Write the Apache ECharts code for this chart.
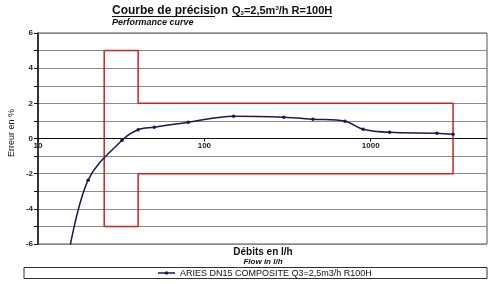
<!DOCTYPE html>
<html><head><meta charset="utf-8">
<script src="https://cdn.jsdelivr.net/npm/echarts@6/dist/echarts.min.js"></script>
<style>html,body{margin:0;padding:0;background:#fff}#c{width:501px;height:284px}</style>
</head><body><div id="c"></div>
<script>
// Data
const flows = [15, 20, 32, 40, 50, 80, 150, 300, 450, 700, 900, 1300, 2500, 3125];
const errors = [-7, -2.37, -0.1, 0.5, 0.64, 0.93, 1.27, 1.21, 1.1, 0.98, 0.53, 0.35, 0.3, 0.24];
// Maximum permissible error envelope (Q1=25, Q2=40, Q4=3125 l/h)
const envFlows = [25, 40, 40, 3125, 3125, 40, 40, 25, 25];
const envErrors = [5, 5, 2, 2, -2, -2, -5, -5, 5];
const xTickLabels = [10, 100, 1000];
const seriesName = 'ARIES DN15 COMPOSITE Q3=2,5m3/h R100H';

const FONT = '"Liberation Sans", Arial, sans-serif';
const chart = echarts.init(document.getElementById('c'), null, {renderer: 'canvas'});
const GRID_TOP = 33, GRID_BOTTOM = 40, H = 284;
const Y_MIN = -6, Y_MAX = 6;
const gridH = H - GRID_TOP - GRID_BOTTOM;
// move the x axis up to where y = 0
const zeroOffset = -gridH * (0 - Y_MIN) / (Y_MAX - Y_MIN);
chart.setOption({
  animation: false,
  textStyle: {fontFamily: FONT},
  grid: {left: 38, right: 14, top: GRID_TOP, bottom: GRID_BOTTOM, show: true, borderColor: '#555', borderWidth: 1, backgroundColor: 'transparent'},
  xAxis: {
    type: 'log', logBase: 10, min: 10, max: 5000,
    position: 'bottom', offset: zeroOffset,
    axisLine: {onZero: false, lineStyle: {color: '#111', width: 1}},
    axisTick: {show: true, length: 3, lineStyle: {color: '#111'}},
    axisLabel: {
      margin: 3, fontSize: 8, fontWeight: 'bold', color: '#222', fontFamily: FONT,
      showMaxLabel: false,
      formatter: v => (xTickLabels.indexOf(Math.round(v)) >= 0 ? String(Math.round(v)) : '')
    },
    splitLine: {show: false}
  },
  yAxis: {
    type: 'value', min: Y_MIN, max: Y_MAX, interval: 1,
    axisLine: {show: true, onZero: false, lineStyle: {color: '#111', width: 1.5}},
    axisTick: {show: true, length: 4, inside: false, lineStyle: {color: '#111'}, interval: 0},
    axisLabel: {margin: 5, fontSize: 8, fontWeight: 'bold', color: '#222', fontFamily: FONT,
      formatter: v => (Math.round(v) % 2 === 0 ? String(v) : '')},
    splitLine: {show: true, lineStyle: {color: '#8a8a8a', width: 1.2}}
  },
  legend: {show: false},
  series: [
    {
      name: 'envelope', type: 'line', silent: true,
      data: envFlows.map((f, i) => [f, envErrors[i]]),
      symbol: 'none', lineStyle: {color: '#d42020', width: 1.5}, z: 3
    },
    {
      name: seriesName, type: 'line', smooth: 0.35, clip: true,
      data: flows.map((f, i) => [f, errors[i]]),
      symbol: 'circle', symbolSize: 3.5,
      itemStyle: {color: '#161a58'},
      lineStyle: {color: '#161a58', width: 1.5}, z: 4
    }
  ],
  graphic: [
    {type: 'text', left: 112, top: 5, style: {text: 'Courbe de précision', font: 'bold 12px ' + FONT, fill: '#111'}},
    {type: 'line', shape: {x1: 112, y1: 16.5, x2: 215, y2: 16.5}, style: {stroke: '#111', lineWidth: 1}},
    {type: 'text', left: 232, top: 5, style: {
      text: '{a|Q}{s|3}{a|=2,5m}{p|3}{a|/h R=100H}',
      rich: {a: {font: 'bold 11px ' + FONT, fill: '#111'}, s: {font: 'bold 6px ' + FONT, fill: '#111', verticalAlign: 'bottom', padding: [5, 0, 0, 0]}, p: {font: 'bold 6px ' + FONT, fill: '#111', verticalAlign: 'top'}}
    }},
    {type: 'line', shape: {x1: 232, y1: 16.5, x2: 332, y2: 16.5}, style: {stroke: '#111', lineWidth: 1}},
    {type: 'text', left: 112, top: 18, style: {text: 'Performance curve', font: 'italic bold 9px ' + FONT, fill: '#111'}},
    {type: 'text', x: 12, y: 133, rotation: Math.PI / 2, style: {text: 'Erreur en %', font: '9px ' + FONT, fill: '#111', align: 'center', verticalAlign: 'middle'}},
    {type: 'text', x: 263, y: 252, style: {text: 'Débits en l/h', font: 'bold 10px ' + FONT, fill: '#111', align: 'center', verticalAlign: 'middle'}},
    {type: 'text', x: 263, y: 262, style: {text: 'Flow in l/h', font: 'italic bold 8px ' + FONT, fill: '#111', align: 'center', verticalAlign: 'middle'}},
    {type: 'rect', shape: {x: 24, y: 267.5, width: 463, height: 11}, style: {fill: '#fff', stroke: '#333', lineWidth: 1}},
    {type: 'line', shape: {x1: 158, y1: 273, x2: 175, y2: 273}, style: {stroke: '#161a58', lineWidth: 1.5}},
    {type: 'circle', shape: {cx: 166.5, cy: 273, r: 1.7}, style: {fill: '#161a58'}},
    {type: 'text', x: 180, y: 273.5, style: {text: seriesName, font: '9px ' + FONT, fill: '#111', verticalAlign: 'middle'}}
  ]
});
</script></body></html>
